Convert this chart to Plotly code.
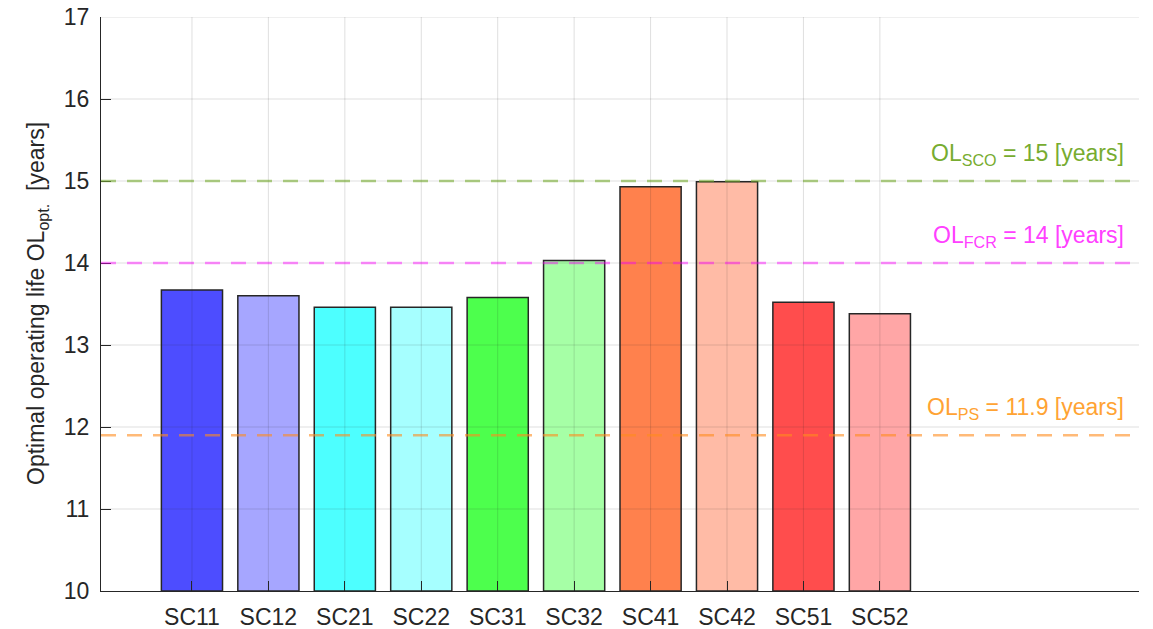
import plotly.graph_objects as go

# Scenario data: optimal operating life per scenario
scenarios = ["SC11", "SC12", "SC21", "SC22", "SC31", "SC32", "SC41", "SC42", "SC51", "SC52"]
operating_life = [13.67, 13.60, 13.46, 13.46, 13.58, 14.03, 14.93, 14.99, 13.52, 13.38]
bar_colors = ["#4d4dff", "#a6a6ff", "#4dffff", "#a6ffff", "#4dff4d",
              "#a6ffa6", "#ff814d", "#ffbba6", "#ff4d4d", "#ffa6a6"]

# Reference operating lives (horizontal dashed lines)
ref_names = ["SCO", "FCR", "PS"]
ref_values = [15, 14, 11.9]
ref_labels = ["15", "14", "11.9"]
ref_line_colors = ["rgba(119,172,48,0.6)", "rgba(255,0,255,0.45)", "rgba(255,140,30,0.6)"]
ref_text_colors = ["#77ac30", "#ff40ff", "#ffa333"]

y_ticks = [10, 11, 12, 13, 14, 15, 16, 17]

x_pos = list(range(1, len(scenarios) + 1))
axis_color = "#262626"
font_family = "Liberation Sans, Arial, Helvetica, sans-serif"
grid_color = "rgba(38,38,38,0.15)"

fig = go.Figure()
fig.add_trace(go.Bar(
    x=x_pos,
    y=[v - 10 for v in operating_life],
    base=10,
    width=0.8,
    marker=dict(color=bar_colors, line=dict(color=axis_color, width=1.5)),
    showlegend=False,
    hoverinfo="skip",
))

shapes = []
# grid drawn over the bars
for xv in x_pos:
    shapes.append(dict(type="line", xref="x", yref="y", x0=xv, x1=xv, y0=10, y1=17,
                       line=dict(color=grid_color, width=1), layer="above"))
for yv in y_ticks[1:]:
    shapes.append(dict(type="line", xref="paper", yref="y", x0=0, x1=1, y0=yv, y1=yv,
                       line=dict(color=grid_color, width=1), layer="above"))
# reference lines
for val, col in zip(ref_values, ref_line_colors):
    shapes.append(dict(type="line", xref="paper", yref="y", x0=0, x1=1, y0=val, y1=val,
                       line=dict(color=col, width=2.5, dash="15px,11px"), layer="above"))

annotations = []
for name, val, lab, col in zip(ref_names, ref_values, ref_labels, ref_text_colors):
    annotations.append(dict(
        xref="paper", yref="y", x=0.9875, y=val, xanchor="right", yanchor="bottom",
        yshift=10, showarrow=False,
        text=f"OL<sub>{name}</sub> = {lab} [years]",
        font=dict(family=font_family, size=23, color=col),
    ))

annotations.append(dict(
    xref="paper", yref="paper", x=0, y=0.5, xanchor="center", yanchor="middle",
    xshift=-64, showarrow=False, textangle=-90,
    text="Optimal operating life OL<sub>opt.</sub>\u00a0\u00a0[years]",
    font=dict(family=font_family, size=23, color=axis_color),
))

fig.update_layout(
    width=1153, height=629,
    margin=dict(l=101, r=14, t=17, b=38, autoexpand=False),
    paper_bgcolor="white", plot_bgcolor="white",
    font=dict(family=font_family, size=23, color=axis_color),
    shapes=shapes, annotations=annotations,
    bargap=0.2,
)
fig.update_xaxes(
    range=[-0.19, 13.39], tickvals=x_pos, ticktext=scenarios,
    ticks="inside", ticklen=10, tickcolor=axis_color, tickwidth=1,
    showline=True, linecolor=axis_color, linewidth=1,
    showgrid=False, zeroline=False, layer="above traces", automargin=False,
    tickfont=dict(size=23, color=axis_color),
    ticklabelstandoff=5,
)
fig.update_yaxes(
    range=[10, 17], tickvals=y_ticks,
    ticks="inside", ticklen=10, tickcolor=axis_color, tickwidth=1,
    showline=True, linecolor=axis_color, linewidth=1,
    showgrid=False, zeroline=False, layer="above traces", automargin=False,
    tickfont=dict(size=23, color=axis_color),
    ticklabelstandoff=6,
)

fig.write_html("out.html")
